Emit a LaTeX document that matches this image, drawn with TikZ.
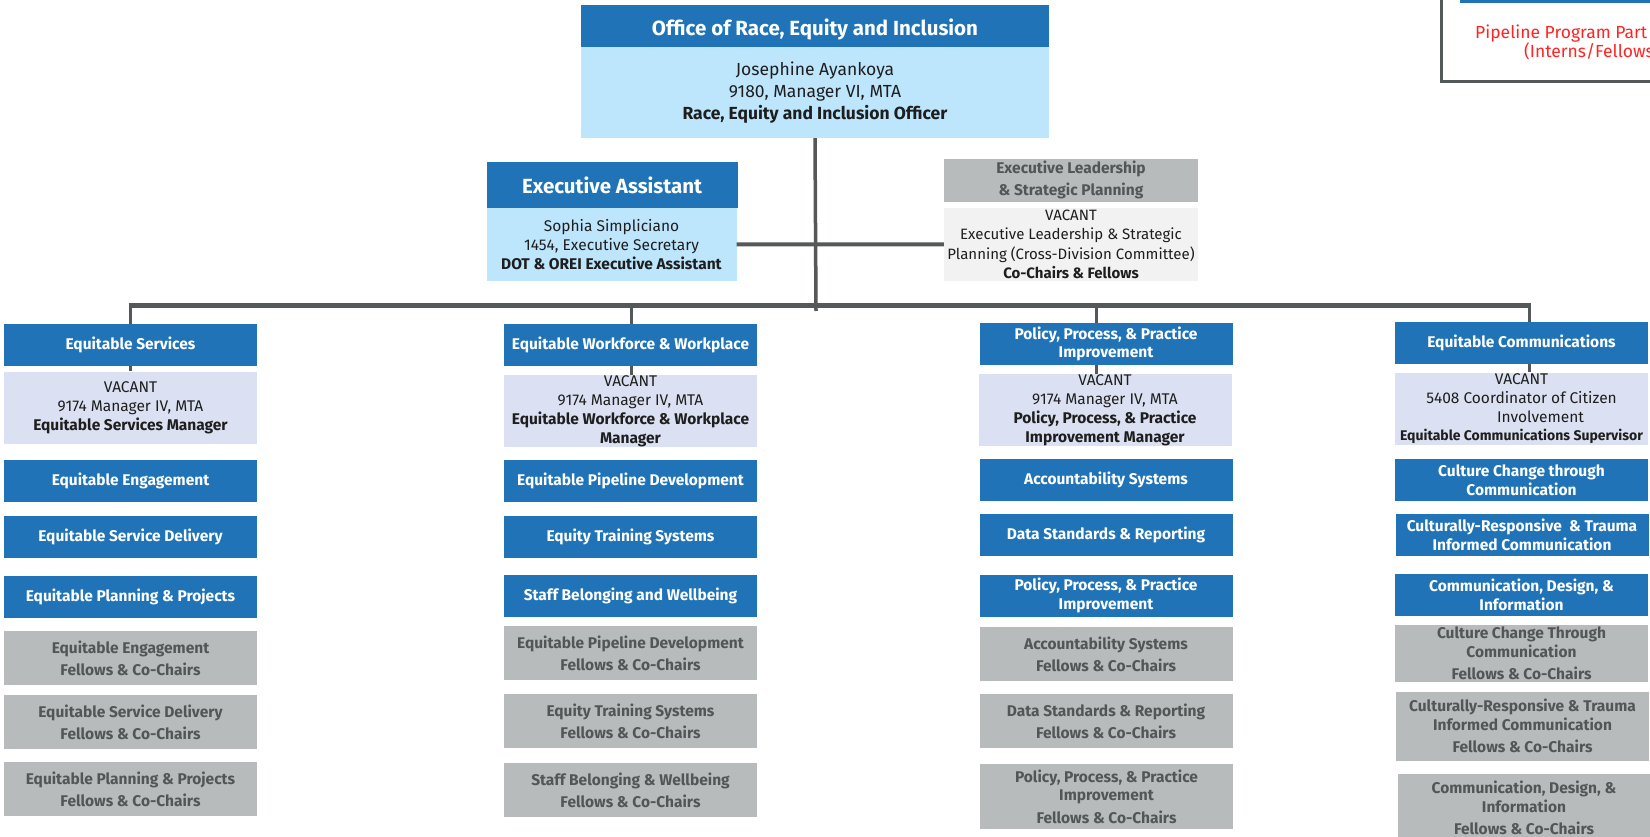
\documentclass[tikz,border=0pt]{standalone}
\usepackage{fontspec}
\setmainfont{Fira Sans}
\usepackage{tikz}
\definecolor{oreiblue}{RGB}{31,115,182}
\definecolor{oreisky}{RGB}{189,229,252}
\definecolor{oreilav}{RGB}{219,225,242}
\definecolor{oreigray}{RGB}{183,187,187}
\definecolor{oreipale}{RGB}{242,242,242}
\definecolor{oreidark}{RGB}{82,86,86}
\definecolor{oreitext}{RGB}{30,30,30}
\definecolor{oreiline}{RGB}{84,88,88}
\definecolor{oreired}{RGB}{255,35,35}

\begin{document}
\begin{tikzpicture}[x=1pt,y=-1pt,
	every node/.style={inner sep=0pt,align=center},
	bluebox/.style={fill=oreiblue,text=white,font=\bfseries\fontsize{15.5}{18.7}\selectfont,minimum width=253pt,minimum height=42pt},
	mgrbox/.style={fill=oreilav,text=oreitext,font=\fontsize{15.5}{19}\selectfont,minimum width=253pt,minimum height=72pt},
	fellowbox/.style={fill=oreigray,text=oreidark,font=\bfseries\fontsize{15.5}{18.5}\selectfont,minimum width=253pt,minimum height=54pt},
	link/.style={draw=oreiline,line width=3pt}]
	\useasboundingbox (0,0) rectangle (1650,837);
	\clip (0,0) rectangle (1650,837);

	\draw [oreiline, line width=3pt] (1441,-10) rectangle (1700,82);
	\fill [oreiblue] (1460,-10) rectangle (1700,3);
	\node [anchor=base west, text=oreired, font=\fontsize{17.5}{21}\selectfont] (pipeA) at (1475,38.3) {Pipeline Program Part};
	\node [anchor=base west, text=oreired, font=\fontsize{17.5}{21}\selectfont] (pipeB) at (1524,57.3) {(Interns/Fellows};

	\node [fill=oreiblue, text=white, font=\bfseries\fontsize{20.5}{24}\selectfont, minimum width=468pt, minimum height=42pt, text height=18.8pt, text depth=0pt] (orei) at (815,26) {Office of Race, Equity and Inclusion};
	\node [fill=oreisky, text=oreitext, font=\fontsize{17.5}{21.7}\selectfont, minimum width=468pt, minimum height=91pt] (oreiBody) at (815,92.5) {Josephine Ayankoya\\9180, Manager VI, MTA\\\textbf{Race, Equity and Inclusion Officer}};

	\node [fill=oreiblue, text=white, font=\bfseries\fontsize{20.5}{24}\selectfont, minimum width=251pt, minimum height=45.5pt] (ea) at (612,185) {Executive Assistant};
	\node [fill=oreisky, text=oreitext, font=\fontsize{15.5}{19}\selectfont, minimum width=250pt, minimum height=73.3pt] (eaBody) at (611.5,244.4) {Sophia Simpliciano\\1454, Executive Secretary\\\textbf{DOT \& OREI Executive Assistant}};

	\node [fill=oreigray, text=oreidark, font=\bfseries\fontsize{15.5}{22}\selectfont, minimum width=254pt, minimum height=42.7pt] (el) at (1071,180.3) {Executive Leadership\\\& Strategic Planning};
	\node [fill=oreipale, text=oreitext, font=\fontsize{15}{19.5}\selectfont, minimum width=254pt, minimum height=73pt] (elBody) at (1071,244.5) {VACANT\\Executive Leadership \& Strategic\\Planning (Cross-Division Committee)\\\textbf{Co-Chairs \& Fellows}};

	\node [bluebox] (es) at (130.5,345) {Equitable Services};
	\node [mgrbox] (esMgr) at (130.5,407.5) {VACANT\\9174 Manager IV, MTA\\\textbf{Equitable Services Manager}};
	\node [bluebox] (esEng) at (130.5,481) {Equitable Engagement};
	\node [bluebox] (esDel) at (130.5,537) {Equitable Service Delivery};
	\node [bluebox] (esPlan) at (130.5,597) {Equitable Planning \& Projects};
	\node [fellowbox] (esEngF) at (130.5,658) {Equitable Engagement\\[3.5pt]Fellows \& Co-Chairs};
	\node [fellowbox] (esDelF) at (130.5,722) {Equitable Service Delivery\\[3.5pt]Fellows \& Co-Chairs};
	\node [fellowbox] (esPlanF) at (130.5,789) {Equitable Planning \& Projects\\[3.5pt]Fellows \& Co-Chairs};

	\node [bluebox] (wf) at (630.5,345) {Equitable Workforce \& Workplace};
	\node [mgrbox] (wfMgr) at (630.5,411) {VACANT\\9174 Manager IV, MTA\\\textbf{Equitable Workforce \& Workplace}\\\textbf{Manager}};
	\node [bluebox] (wfPipe) at (630.5,481) {Equitable Pipeline Development};
	\node [bluebox] (wfTrain) at (630.5,537) {Equity Training Systems};
	\node [bluebox] (wfStaff) at (630.5,596) {Staff Belonging and Wellbeing};
	\node [fellowbox] (wfPipeF) at (630.5,653) {Equitable Pipeline Development\\[3.5pt]Fellows \& Co-Chairs};
	\node [fellowbox] (wfTrainF) at (630.5,721) {Equity Training Systems\\[3.5pt]Fellows \& Co-Chairs};
	\node [fellowbox] (wfStaffF) at (630.5,790) {Staff Belonging \& Wellbeing\\[3.5pt]Fellows \& Co-Chairs};

	\node [bluebox] (pol) at (1106,344) {Policy, Process, \& Practice\\Improvement};
	\node [mgrbox, minimum height=71pt] (polMgr) at (1105,410) {VACANT\\9174 Manager IV, MTA\\\textbf{Policy, Process, \& Practice}\\\textbf{Improvement Manager}};
	\node [bluebox] (polAcc) at (1106,480) {Accountability Systems};
	\node [bluebox] (polData) at (1106,535) {Data Standards \& Reporting};
	\node [bluebox] (polImp) at (1106,595.5) {Policy, Process, \& Practice\\Improvement};
	\node [fellowbox] (polAccF) at (1106,654) {Accountability Systems\\[3.5pt]Fellows \& Co-Chairs};
	\node [fellowbox] (polDataF) at (1106,721) {Data Standards \& Reporting\\[3.5pt]Fellows \& Co-Chairs};
	\node [fellowbox, minimum height=65pt] (polImpF) at (1106.5,796.5) {Policy, Process, \& Practice\\Improvement\\[4pt]Fellows \& Co-Chairs};

	\node [bluebox] (com) at (1521.5,343) {Equitable Communications};
	\node [mgrbox] (comMgr) at (1521.5,408.5) {VACANT\\5408 Coordinator of Citizen\\\hspace*{38pt}Involvement\\[-1.5pt]{\bfseries\fontsize{14}{17}\selectfont Equitable Communications Supervisor}};
	\node [bluebox] (comCult) at (1521.5,480) {Culture Change through\\Communication};
	\node [bluebox] (comResp) at (1522,535) {Culturally-Responsive \ \& Trauma\\Informed Communication};
	\node [bluebox] (comDes) at (1521.5,595) {Communication, Design, \&\\Information};
	\node [fellowbox, minimum height=57pt] (comCultF) at (1521.5,653) {Culture Change Through\\Communication\\[3.5pt]Fellows \& Co-Chairs};
	\node [fellowbox, minimum height=69pt] (comRespF) at (1522.5,726) {Culturally-Responsive \& Trauma\\Informed Communication\\[3.5pt]Fellows \& Co-Chairs};
	\node [fellowbox, minimum height=68pt] (comDesF) at (1524,808) {Communication, Design, \&\\Information\\[3.5pt]Fellows \& Co-Chairs};

	\coordinate (trunkEnd) at (816,311);
	\coordinate (dropA) at (130,305);
	\coordinate (dropB) at (631,305);
	\coordinate (dropC) at (1096,305);
	\coordinate (dropD) at (1529,305);

	\draw [link, line width=3.5pt] (oreiBody.south) -- (trunkEnd);
	\draw [link, line width=4pt] (eaBody.east) -- (elBody.west);
	\draw [link, line width=5pt] ([xshift=-1.5pt]dropA) -- ([xshift=1.5pt]dropD);
	\draw [link] (dropA) -- (dropA |- es.north);
	\draw [link] (dropA |- es.south) -- (dropA |- esMgr.north);
	\draw [link] (dropB) -- (dropB |- wf.north);
	\draw [link] (dropB |- wf.south) -- (dropB |- wfMgr.north);
	\draw [link] (dropC) -- (dropC |- pol.north);
	\draw [link] (dropC |- pol.south) -- (dropC |- polMgr.north);
	\draw [link] (dropD) -- (dropD |- com.north);
	\draw [link] (dropD |- com.south) -- (dropD |- comMgr.north);
\end{tikzpicture}
\end{document}
